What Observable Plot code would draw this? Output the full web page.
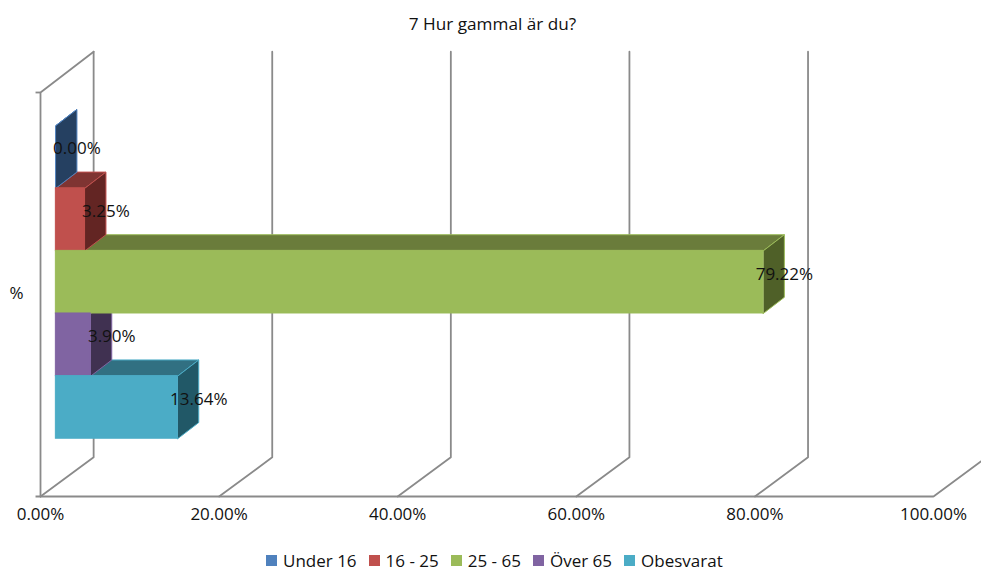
<!DOCTYPE html>
<html lang="sv">
<head>
<meta charset="utf-8">
<script src="https://cdn.jsdelivr.net/npm/d3@7"></script>
<script src="https://cdn.jsdelivr.net/npm/@observablehq/plot@0.6"></script>
<style>
html,body{margin:0;padding:0;background:#fff;width:981px;height:573px;overflow:hidden;font-family:"Open Sans",sans-serif;color:#111}
#title{height:42px;box-sizing:border-box;padding-top:13px;text-align:center;font-size:17.2px;line-height:22px;transform:translateX(2px)}
#chart svg{display:block;overflow:hidden}
#legend{position:absolute;left:266px;top:549px;height:23px;display:flex;align-items:center;font-size:17px;line-height:23px;white-space:nowrap}
#legend span.k{display:inline-block;width:11px;height:11px;margin-right:6px}
#legend span.t{margin-right:12px}
</style>
</head>
<body>
<div id="title"></div>
<div id="chart"></div>
<div id="legend"></div>
<script>
const chartTitle = "7 Hur gammal är du?";
const categoryLabel = "%";
const categories = ["Under 16", "16 - 25", "25 - 65", "Över 65", "Obesvarat"];
const values = [0, 3.25, 79.22, 3.9, 13.64];
const frontColors = ["#4f81bd", "#c0504d", "#9bbb59", "#8064a2", "#4bacc6"];
const topColors = ["#3a6190", "#7f3432", "#6a7c3b", "#554270", "#317082"];
const sideColors = ["#254061", "#632523", "#4f6028", "#403151", "#215867"];
const axisTicks = [0, 20, 40, 60, 80, 100];

// Projection constants of the pseudo-3D box, in scale units
const floorDX = 5.95, floorDY = 0.097;    // depth of the chart box
const barDX = 2.36, barDY = 0.04;         // depth of a bar
const barBase = 1.72;                     // gap from the wall to the bar start
const barH = 0.155, lowestBar = 0.143;    // bar height, bottom of the lowest bar

const bars = categories.map((c, i) => {
  const y1 = lowestBar + (categories.length - 1 - i) * barH;
  return {c, i, v: values[i], x1: barBase, x2: barBase + values[i], y1, y2: y1 + barH,
          front: frontColors[i], top: topColors[i], side: sideColors[i]};
});

// Lower bars are painted first, fronts come last.
const faces = [];
[...bars].reverse().forEach(b => {
  const add = (name, fill, pts) => pts.forEach(([x, y]) =>
    faces.push({id: b.c + name, x, y, fill, stroke: b.front}));
  add("top", b.top, [[b.x1, b.y2], [b.x1 + barDX, b.y2 + barDY], [b.x2 + barDX, b.y2 + barDY], [b.x2, b.y2]]);
  add("side", b.side, [[b.x2, b.y1], [b.x2 + barDX, b.y1 + barDY], [b.x2 + barDX, b.y2 + barDY], [b.x2, b.y2]]);
});

const grid = axisTicks.flatMap(t => [
  {t, x: t, y: 0},
  {t, x: t + floorDX, y: floorDY},
  {t, x: t + floorDX, y: 1 + floorDY + 0.004}
]);
const wall = [
  {x: 0, y: 0}, {x: 0, y: 1}, {x: floorDX, y: 1 + floorDY + 0.004}
];

document.getElementById("title").textContent = chartTitle;

const svgTop = 42, svgH = 505;
const lineW = 1.8, lineC = "#8a8a8a";
const chart = Plot.plot({
  width: 981, height: svgH,
  marginLeft: 40, marginRight: 48,
  marginTop: 92 - svgTop, marginBottom: svgH - (496 - svgTop),
  style: {background: "#fff", fontFamily: "'Open Sans',sans-serif", color: "#111"},
  x: {domain: [0, 100], axis: null},
  y: {domain: [0, 1], axis: null},
  color: {type: "identity"},
  marks: [
    Plot.line(grid, {x: "x", y: "y", z: "t", stroke: lineC, strokeWidth: lineW}),
    Plot.line(wall, {x: "x", y: "y", stroke: lineC, strokeWidth: lineW}),
    Plot.ruleY([0], {x1: -0.5, x2: 100, stroke: lineC, strokeWidth: lineW}),
    Plot.ruleY([1], {x1: -0.5, x2: 0, stroke: lineC, strokeWidth: lineW}),
    Plot.line(faces, {x: "x", y: "y", z: "id", fill: "fill", stroke: "stroke", strokeWidth: 1, curve: "linear-closed"}),
    Plot.rect(bars, {x1: "x1", x2: "x2", y1: "y1", y2: "y2", fill: "front", stroke: "front", strokeWidth: 1}),
    Plot.text(bars, {
      x: d => d.x2 + barDX,
      y: d => (d.y1 + d.y2) / 2 + barDY / 2,
      text: d => d.v.toFixed(2) + "%",
      fontSize: 17, fill: "#111", textAnchor: "middle", lineAnchor: "middle"
    }),
    Plot.text(axisTicks, {
      x: d => d, y: 0, dy: 18, text: d => d.toFixed(2) + "%",
      fontSize: 17, fill: "#111", textAnchor: "middle", lineAnchor: "middle"
    }),
    Plot.text([categoryLabel], {
      frameAnchor: "left", dx: -24, dy: -1, text: d => d,
      fontSize: 17, fill: "#111", textAnchor: "middle", lineAnchor: "middle"
    })
  ]
});
document.getElementById("chart").appendChild(chart);

const legend = document.getElementById("legend");
categories.forEach((c, i) => {
  const k = document.createElement("span");
  k.className = "k"; k.style.background = frontColors[i];
  const t = document.createElement("span");
  t.className = "t"; t.textContent = c;
  legend.append(k, t);
});
</script>
</body>
</html>
